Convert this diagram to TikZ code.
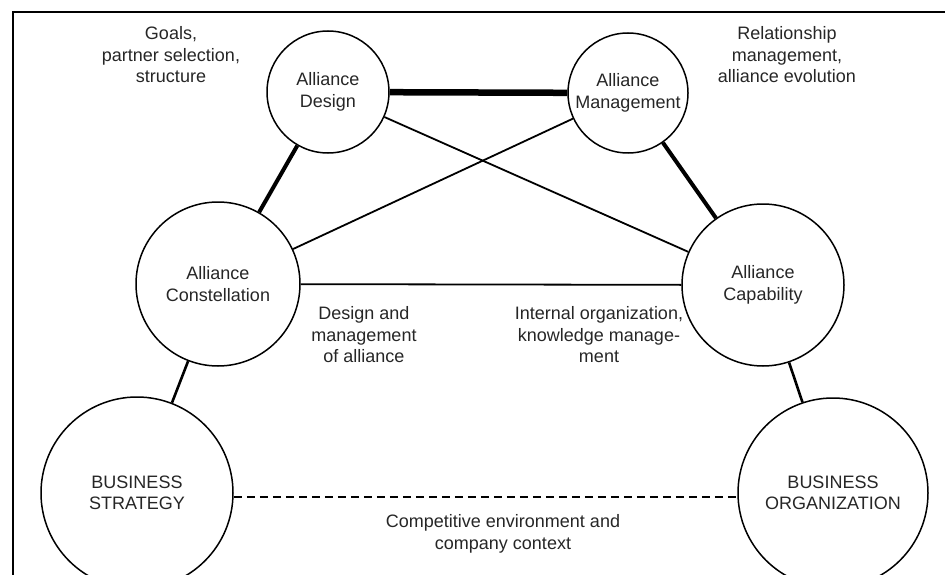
\documentclass[tikz,border=0pt]{standalone}
\usepackage{fontspec}
\setmainfont{Liberation Sans}
\begin{document}
\begin{tikzpicture}[x=1pt,y=-1pt,
  font=\fontsize{18}{21.5}\selectfont,
  circ/.style={draw, circle, line width=1.5pt, inner sep=0pt, align=center, text=black!85},
  lbl/.style={align=center, text=black!85, inner sep=0pt},
  heavylink/.style={line width=6.5pt},
  boldlink/.style={line width=4pt},
  midlink/.style={line width=2.6pt},
  plainlink/.style={line width=1.8pt},
  dashlink/.style={line width=1.5pt, dash pattern=on 8pt off 5pt}]
\useasboundingbox (0,0) rectangle (945,575);
\clip (0,0) rectangle (945,575);
\draw[line width=1.5pt] (13,580) -- (13,12) -- (950,12);
% circles
\node[circ, minimum size=122pt] (ad) at (328,92) {Alliance\\Design};
\node[circ, minimum size=120pt] (am) at (628,93) {Alliance\\Management};
\node[circ, minimum size=164pt] (ac) at (218,284) {Alliance\\Constellation};
\node[circ, minimum size=162pt] (ap) at (763,285) {Alliance\\Capability};
\node[circ, minimum size=192pt] (bs) at (137,493) {BUSINESS\\STRATEGY};
\node[circ, minimum size=190pt] (bo) at (833,493) {BUSINESS\\ORGANIZATION};
% connectors
\draw[heavylink] (ad) -- (am);
\draw[boldlink] (ad) -- (ac);
\draw[boldlink] (am) -- (ap);
\draw[plainlink] (ad) -- (ap);
\draw[plainlink] (am) -- (ac);
\draw[plainlink] (ac) -- (ap);
\draw[midlink] (ac) -- (bs);
\draw[midlink] (ap) -- (bo);
\draw[dashlink] ([yshift=-4pt]bs.east) -- ([yshift=-4pt]bo.west);
% labels
\node[lbl] (t1) at (171,55) {Goals,\\partner selection,\\structure};
\node[lbl] (t2) at (787,55) {Relationship\\management,\\alliance evolution};
\node[lbl] (t3) at (364,335) {Design and\\management\\of alliance};
\node[lbl] (t4) at (599,335) {Internal organization,\\knowledge manage-\\ment};
\node[lbl] (t5) at (503,534) {Competitive environment and\\company context};
\end{tikzpicture}
\end{document}
